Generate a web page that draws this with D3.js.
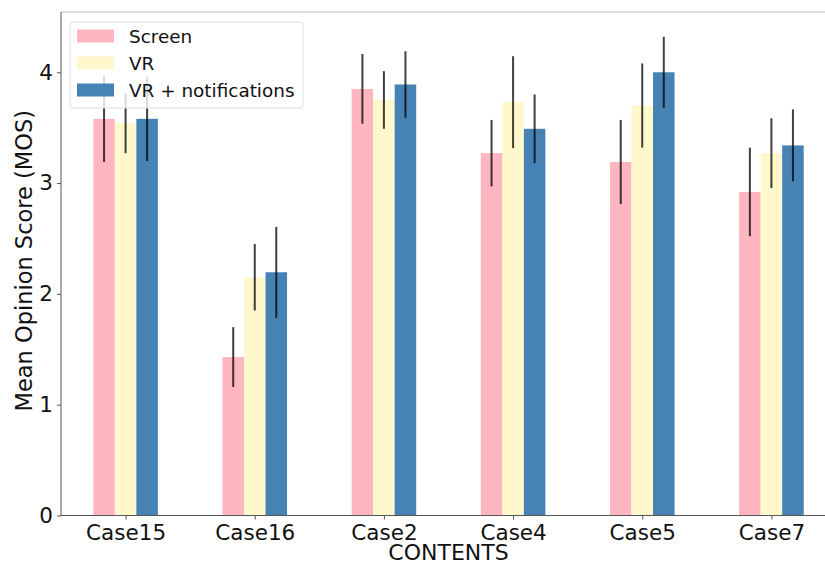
<!DOCTYPE html>
<html>
<head>
<meta charset="utf-8">
<script src="https://cdn.jsdelivr.net/npm/d3@7"></script>
<style>
  html, body { margin: 0; padding: 0; background: #fff; }
  svg { display: block; font-family: "DejaVu Sans", sans-serif; }
</style>
</head>
<body>
<svg id="chart" width="825" height="565"></svg>
<script>
const categories = ["Case15", "Case16", "Case2", "Case4", "Case5", "Case7"];
const seriesNames = ["Screen", "VR", "VR + notifications"];
const screenMean = [3.58, 1.43, 3.85, 3.27, 3.19, 2.92];
const screenErr  = [0.39, 0.27, 0.315, 0.30, 0.38, 0.40];
const vrMean     = [3.54, 2.15, 3.75, 3.73, 3.70, 3.27];
const vrErr      = [0.27, 0.30, 0.26, 0.415, 0.38, 0.315];
const vrnMean    = [3.58, 2.195, 3.89, 3.49, 4.00, 3.34];
const vrnErr     = [0.38, 0.41, 0.30, 0.31, 0.32, 0.325];
const yTicks = [0, 1, 2, 3, 4];
const colors = ["#FFB6C1", "#FFF8CC", "#4682B4"];

(function () {
const svg = d3.select("#chart");
const mLeft = 61, mRight = 836, mTop = 12, mBottom = 515.5;
const barW = 1 / 6;

const x = d3.scaleLinear().domain([-0.5, 5.5]).range([mLeft, mRight]);
const y = d3.scaleLinear().domain([0, 4.544]).range([mBottom, mTop]);

const means = [screenMean, vrMean, vrnMean];
const errs = [screenErr, vrErr, vrnErr];

const data = [];
means.forEach((arr, s) => arr.forEach((v, i) => data.push({ s, i, v, e: errs[s][i] })));

const g = svg.append("g");
g.selectAll("rect.bar").data(data).enter().append("rect")
  .attr("class", "bar")
  .attr("x", d => x(d.i + (d.s - 1) * barW - barW / 2))
  .attr("width", d => x(barW) - x(0))
  .attr("y", d => y(d.v))
  .attr("height", d => y(0) - y(d.v))
  .attr("fill", d => colors[d.s]);

g.selectAll("line.err").data(data).enter().append("line")
  .attr("class", "err")
  .attr("x1", d => x(d.i + (d.s - 1) * barW))
  .attr("x2", d => x(d.i + (d.s - 1) * barW))
  .attr("y1", d => y(d.v + d.e))
  .attr("y2", d => y(d.v - d.e))
  .attr("stroke", "#000")
  .attr("stroke-opacity", 0.75)
  .attr("stroke-width", 2);

// top spine
svg.append("line").attr("x1", mLeft).attr("x2", 825).attr("y1", mTop).attr("y2", mTop)
  .attr("stroke", "#bbb").attr("stroke-width", 1);

// axes
const yAxis = d3.axisLeft(y).tickValues(yTicks).tickFormat(d3.format("d")).tickSize(4).tickPadding(4);
const ya = svg.append("g").attr("transform", `translate(${mLeft},0)`).call(yAxis);
ya.select(".domain").attr("stroke", "#555").attr("d", `M0,${mTop}V${mBottom}`);
ya.selectAll(".tick line").attr("stroke", "#555");
ya.selectAll("text").attr("font-size", 21.5).attr("fill", "#111").attr("font-family", "DejaVu Sans");

const xAxis = d3.axisBottom(x).tickValues(d3.range(categories.length))
  .tickFormat(i => categories[i]).tickSize(4).tickPadding(5);
const xa = svg.append("g").attr("transform", `translate(0,${mBottom})`).call(xAxis);
xa.select(".domain").attr("stroke", "#555").attr("d", `M${mLeft},0H825`);
xa.selectAll(".tick line").attr("stroke", "#555");
xa.selectAll("text").attr("font-size", 21.5).attr("fill", "#111").attr("font-family", "DejaVu Sans");

// axis labels
svg.append("text").attr("x", (mLeft + mRight) / 2).attr("y", 559.5)
  .attr("text-anchor", "middle").attr("font-size", 22).attr("fill", "#111").text("CONTENTS");
svg.append("text").attr("transform", `translate(32,${(mTop + mBottom) / 2 - 3}) rotate(-90)`)
  .attr("text-anchor", "middle").attr("font-size", 22.5).attr("fill", "#111").text("Mean Opinion Score (MOS)");

// legend
const lg = svg.append("g");
lg.append("rect").attr("x", 70).attr("y", 22).attr("width", 233).attr("height", 86)
  .attr("rx", 3).attr("fill", "#fff").attr("fill-opacity", 0.8)
  .attr("stroke", "#ddd").attr("stroke-width", 1);
seriesNames.forEach((n, k) => {
  const cy = 36 + k * 27;
  lg.append("rect").attr("x", 77).attr("y", cy - 6.5).attr("width", 37).attr("height", 13)
    .attr("fill", colors[k]);
  lg.append("text").attr("x", 129).attr("y", cy + 6.5).attr("font-size", 18.4)
    .attr("fill", "#111").text(n);
});
})();
</script>
</body>
</html>
